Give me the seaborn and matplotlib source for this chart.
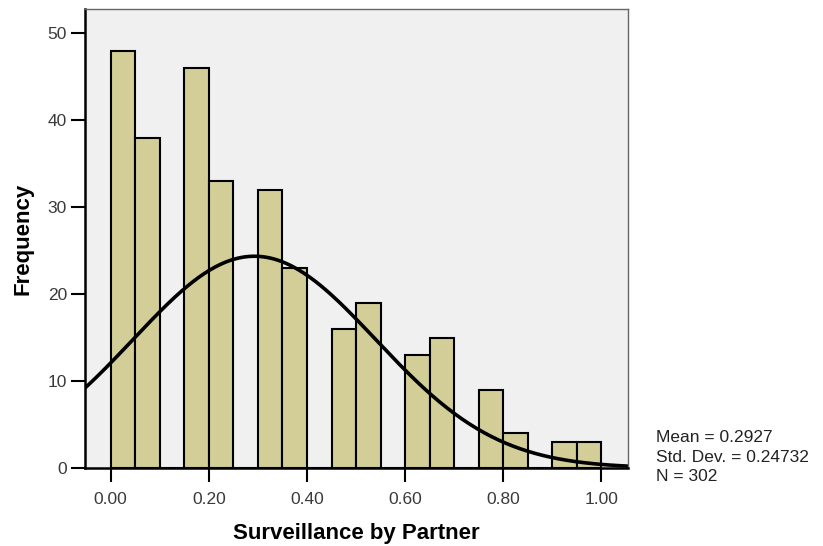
import numpy as np
import pandas as pd
import seaborn as sns
from matplotlib import pyplot as plt

# histogram bins (left edge of each non-empty 0.05-wide bin) and counts
bin_left = [0.00, 0.05, 0.15, 0.20, 0.30, 0.35, 0.45, 0.50,
            0.60, 0.65, 0.75, 0.80, 0.90, 0.95]
counts = [48, 38, 46, 33, 32, 23, 16, 19, 13, 15, 9, 4, 3, 3]
bin_width = 0.05
x_ticks = [0.0, 0.2, 0.4, 0.6, 0.8, 1.0]
y_ticks = [0, 10, 20, 30, 40, 50]

mean = 0.2927
std = 0.24732
n = 302

BAR_COLOR = "#D3CE97"
BG_COLOR = "#F0F0F0"

sns.set_style("white")
plt.rcParams["font.family"] = ["Liberation Sans", "DejaVu Sans"]

fig = plt.figure(figsize=(8.23, 5.46), dpi=100)
ax = fig.add_axes([0.1033, 0.1429, 0.6597, 0.8406])
ax.set_facecolor(BG_COLOR)

df = pd.DataFrame({"mid": np.array(bin_left) + bin_width / 2, "count": counts})
sns.histplot(
    data=df, x="mid", weights="count", bins=20, binrange=(0, 1),
    color=BAR_COLOR, alpha=1, edgecolor="black", linewidth=1.5, ax=ax,
)

# fitted normal curve scaled to counts
xs = np.linspace(-0.06, 1.06, 300)
ys = n * bin_width * np.exp(-0.5 * ((xs - mean) / std) ** 2) / (std * np.sqrt(2 * np.pi))
sns.lineplot(x=xs, y=ys, color="black", linewidth=2.6, ax=ax)

ax.set_xlim(-0.0524, 1.054)
ax.set_ylim(0, 52.8)
ax.set_xticks(x_ticks)
ax.set_xticklabels([f"{v:.2f}" for v in x_ticks])
ax.set_yticks(y_ticks)
ax.tick_params(axis="both", direction="out", length=10, width=1.5,
               color="black", labelsize=12.5, labelcolor="#3a3a3a", pad=3,
               bottom=True, left=True)
ax.tick_params(axis="x", pad=7)

for side in ["left", "bottom"]:
    ax.spines[side].set_color("black")
    ax.spines[side].set_linewidth(1.8)
for side in ["top", "right"]:
    ax.spines[side].set_color("#666666")
    ax.spines[side].set_linewidth(1.0)

ax.set_xlabel("Surveillance by Partner", fontsize=16, fontweight="bold",
              labelpad=12, color="black")
ax.set_ylabel("Frequency", fontsize=16, fontweight="bold", labelpad=10,
              color="black")

fig.text(656 / 823, 1 - 430 / 546,
         f"Mean = {mean}\nStd. Dev. = {std}\nN = {n}",
         fontsize=12.5, va="top", ha="left", color="#222222", linespacing=1.38)

plt.savefig("out.png", dpi=100)
